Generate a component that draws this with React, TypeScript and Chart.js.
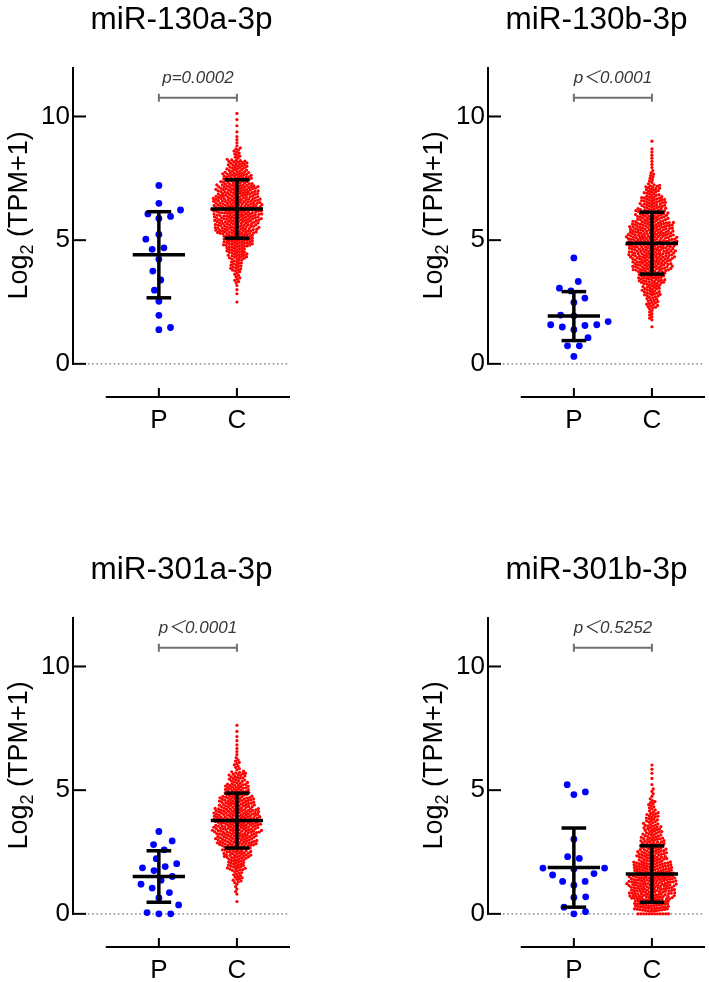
import React, { useEffect, useRef } from 'react';
import { Chart, registerables } from 'chart.js';
Chart.register(...registerables);

// ---------------- data ----------------
const titles = ['miR-130a-3p', 'miR-130b-3p', 'miR-301a-3p', 'miR-301b-3p'];
const categories = ['P', 'C'];
const pTexts = ['p=0.0002', 'p\uFF1C0.0001', 'p\uFF1C0.0001', 'p\uFF1C0.5252'];
const yTicks = [0, 5, 10];
const yTitleMain = 'Log';
const yTitleSub = '2';
const yTitleRest = ' (TPM+1)';

// P group (blue), individual values
const P_130a = [7.21, 6.49, 6.22, 6.06, 5.96, 5.88, 5.23, 5.04, 4.69, 4.63, 4.23, 3.75, 3.39, 2.98, 2.53, 1.96, 1.47, 1.38];
const P_130b = [4.28, 3.33, 3.06, 2.95, 2.66, 2.48, 1.97, 1.94, 1.71, 1.58, 1.58, 1.55, 1.49, 1.38, 1.06, 0.73, 0.73, 0.3];
const P_301a = [3.33, 2.95, 2.8, 2.59, 2.23, 2.03, 1.91, 1.86, 1.75, 1.51, 1.36, 1.2, 1.04, 0.86, 0.64, 0.36, 0.05, 0, 0];
const P_301b = [5.22, 4.93, 4.82, 3.02, 2.31, 2.24, 1.85, 1.85, 1.81, 1.63, 1.57, 1.31, 1.31, 1.16, 0.69, 0.66, 0.27, 0.09, 0];

// C group (red): counts per 0.5-wide bin
const C_130a_start = 2.25;
const C_130a_counts = [1, 3, 10, 20, 34, 52, 68, 76, 76, 68, 48, 33, 12, 4, 2, 2];
const C_130b_start = 1.25;
const C_130b_counts = [1, 8, 20, 30, 44, 63, 72, 78, 69, 52, 42, 25, 9, 4, 4, 1];
const C_301a_start = 0.25;
const C_301a_counts = [1, 5, 16, 30, 45, 65, 75, 74, 57, 40, 27, 10, 4, 3, 2];
const C_301b_start = 0.1;
const C_301b_zeros = 12;
const C_301b_counts = [60, 72, 78, 66, 48, 38, 30, 21, 12, 5, 2, 3];
const BIN_W = 0.5;

// mean and SD
const meanP = [4.41, 1.93, 1.51, 1.87];
const sdP = [1.74, 0.99, 1.04, 1.6];
const meanC = [6.26, 4.88, 3.77, 1.61];
const sdC = [1.18, 1.25, 1.11, 1.14];

const pData = [P_130a, P_130b, P_301a, P_301b];
const cStarts = [C_130a_start, C_130b_start, C_301a_start, C_301b_start];
const cCounts = [C_130a_counts, C_130b_counts, C_301a_counts, C_301b_counts];
const cZeros = [0, 0, 0, C_301b_zeros];

// ---------------- layout constants ----------------
const Y_MIN = -1.34;
const Y_MAX = 12;
const X_MIN = -1.1;
const X_MAX = 1.68;
const X_LINE_MIN = -0.68;
const DOT_LINE_MIN = -0.91;
const BRACKET_Y = 10.76;
const CANVAS_W = 294;
const CANVAS_H = 430;
const PX_PER_X = 220 / (X_MAX - X_MIN);
const PX_PER_Y = 330 / (Y_MAX - Y_MIN);
const FONT = "'Liberation Sans', Arial, Helvetica, sans-serif";
const FONT_P = "'Liberation Sans', Arial, 'Noto Sans CJK SC', sans-serif";

function expandBins(start: number, counts: number[], zeros: number) {
  const out: number[] = [];
  for (let i = 0; i < zeros; i++) out.push(0);
  counts.forEach((n, i) => {
    for (let k = 0; k < n; k++) out.push(start + i * BIN_W + ((k + 0.5) * BIN_W) / n);
  });
  return out;
}

function swarm(values: number[], center: number, diam: number) {
  const sorted = [...values].sort((a, b) => a - b);
  const placed: { x: number; y: number }[] = [];
  const pts: { x: number; y: number }[] = [];
  const d2 = diam * diam;
  let flip = 1;
  for (const v of sorted) {
    const y = v * PX_PER_Y;
    const near = placed.filter((p) => Math.abs(p.y - y) < diam);
    const cands = [0];
    for (const p of near) {
      const dx = Math.sqrt(Math.max(d2 - (p.y - y) * (p.y - y), 0));
      cands.push(p.x + dx + 0.001, p.x - dx - 0.001);
    }
    cands.sort((a, b) => Math.abs(a) - Math.abs(b) || (a - b) * flip);
    flip = -flip;
    let chosen = 0;
    for (const c of cands) {
      if (near.every((p) => (p.x - c) * (p.x - c) + (p.y - y) * (p.y - y) >= d2 - 1e-6)) {
        chosen = c;
        break;
      }
    }
    placed.push({ x: chosen, y });
    pts.push({ x: center + chosen / PX_PER_X, y: v });
  }
  return pts;
}

function seg(pts: { x: number; y: number }[], color: string, width: number, order: number, dash: number[] = []) {
  return {
    type: 'scatter' as const,
    data: pts,
    showLine: true,
    borderColor: color,
    backgroundColor: color,
    borderWidth: width,
    borderDash: dash,
    borderCapStyle: 'butt' as const,
    pointRadius: 0,
    order,
  };
}

function errorBar(cx: number, m: number, s: number) {
  const mh = 0.335;
  const ch = 0.158;
  return [
    seg([{ x: cx - mh, y: m }, { x: cx + mh, y: m }], '#000', 3.5, 0),
    seg([{ x: cx, y: m - s }, { x: cx, y: m + s }], '#000', 3.5, 0),
    seg([{ x: cx - ch, y: m + s }, { x: cx + ch, y: m + s }], '#000', 3.5, 0),
    seg([{ x: cx - ch, y: m - s }, { x: cx + ch, y: m - s }], '#000', 3.5, 0),
  ];
}

const axesPlugin = {
  id: 'prismAxes',
  afterDraw(chart: any) {
    const { ctx, chartArea, scales } = chart;
    const xs = scales.x;
    const ys = scales.y;
    const cfg = chart.options.plugins.prismAxes;
    ctx.save();
    ctx.strokeStyle = '#000';
    ctx.lineWidth = 2;
    ctx.lineCap = 'butt';
    const x0 = chartArea.left;
    const yTop = ys.getPixelForValue(Y_MAX);
    const yZero = ys.getPixelForValue(0);
    ctx.beginPath();
    ctx.moveTo(x0, yTop);
    ctx.lineTo(x0, yZero + 1);
    ctx.stroke();
    yTicks.forEach((v) => {
      const y = ys.getPixelForValue(v);
      ctx.beginPath();
      ctx.moveTo(x0 - 1, y);
      ctx.lineTo(x0 + 13, y);
      ctx.stroke();
    });
    const yb = chartArea.bottom;
    ctx.beginPath();
    ctx.moveTo(xs.getPixelForValue(X_LINE_MIN), yb);
    ctx.lineTo(xs.getPixelForValue(X_MAX), yb);
    ctx.stroke();
    categories.forEach((_c, i) => {
      const x = xs.getPixelForValue(i);
      ctx.beginPath();
      ctx.moveTo(x, yb - 9);
      ctx.lineTo(x, yb + 1);
      ctx.stroke();
    });
    // chart title
    ctx.fillStyle = '#000';
    ctx.font = `31.5px ${FONT}`;
    ctx.textAlign = 'center';
    ctx.textBaseline = 'alphabetic';
    ctx.fillText(cfg.title, (chartArea.left + chartArea.right) / 2, 29);
    // y axis title with subscript
    ctx.save();
    ctx.translate(26.5, (yTop + yZero) / 2);
    ctx.rotate(-Math.PI / 2);
    ctx.textAlign = 'left';
    const big = `27px ${FONT}`;
    const small = `18px ${FONT}`;
    ctx.font = big;
    const w1 = ctx.measureText(yTitleMain).width;
    const w3 = ctx.measureText(yTitleRest).width;
    ctx.font = small;
    const w2 = ctx.measureText(yTitleSub).width;
    let x = -(w1 + w2 + w3) / 2;
    ctx.font = big;
    ctx.fillText(yTitleMain, x, 0);
    x += w1;
    ctx.font = small;
    ctx.fillText(yTitleSub, x, 6);
    x += w2;
    ctx.font = big;
    ctx.fillText(yTitleRest, x, 0);
    ctx.restore();
    // p value text
    ctx.font = `italic 17px ${FONT_P}`;
    ctx.fillStyle = '#383838';
    ctx.textAlign = 'center';
    ctx.fillText(cfg.pText, xs.getPixelForValue(0.5), ys.getPixelForValue(BRACKET_Y) - 15);
    ctx.restore();
  },
};

function buildConfig(idx: number): any {
  const blue = swarm(pData[idx], 0, 12);
  const red = swarm(expandBins(cStarts[idx], cCounts[idx], cZeros[idx]), 1, 2.8);
  const tk = 0.16;
  const datasets: any[] = [
    ...errorBar(0, meanP[idx], sdP[idx]),
    ...errorBar(1, meanC[idx], sdC[idx]),
    seg([{ x: 0, y: BRACKET_Y + tk }, { x: 0, y: BRACKET_Y - tk }], '#707070', 2, 0),
    seg([{ x: 0, y: BRACKET_Y }, { x: 1, y: BRACKET_Y }], '#707070', 2, 0),
    seg([{ x: 1, y: BRACKET_Y + tk }, { x: 1, y: BRACKET_Y - tk }], '#707070', 2, 0),
    {
      type: 'scatter',
      data: blue,
      pointRadius: 3.4,
      pointBorderWidth: 0,
      borderWidth: 0,
      backgroundColor: '#0000ff',
      borderColor: '#0000ff',
      order: 1,
    },
    {
      type: 'scatter',
      data: red,
      pointRadius: 1.6,
      pointBorderWidth: 0,
      borderWidth: 0,
      backgroundColor: '#ff0000',
      borderColor: '#ff0000',
      order: 2,
    },
    seg([{ x: DOT_LINE_MIN, y: 0 }, { x: X_MAX, y: 0 }], '#9a9a9a', 1.6, 3, [1.6, 2.7]),
  ];
  return {
    type: 'scatter',
    data: { datasets },
    plugins: [axesPlugin],
    options: {
      animation: false,
      responsive: false,
      events: [],
      layout: { padding: { left: 0, right: 1, top: 67, bottom: 0 } },
      plugins: {
        legend: { display: false },
        title: { display: false },
        tooltip: { enabled: false },
        prismAxes: { title: titles[idx], pText: pTexts[idx] },
      },
      scales: {
        x: {
          type: 'linear',
          min: X_MIN,
          max: X_MAX,
          grid: { display: false, drawTicks: false },
          border: { display: false },
          afterBuildTicks: (s: any) => {
            s.ticks = categories.map((_c, i) => ({ value: i }));
          },
          afterFit: (s: any) => {
            s.height = 33;
          },
          ticks: {
            callback: (v: any) => categories[v],
            font: { size: 26, family: FONT },
            color: '#000',
            padding: 8,
            maxRotation: 0,
            autoSkip: false,
          },
        },
        y: {
          type: 'linear',
          min: Y_MIN,
          max: Y_MAX,
          grid: { display: false, drawTicks: false },
          border: { display: false },
          afterBuildTicks: (s: any) => {
            s.ticks = yTicks.map((v) => ({ value: v }));
          },
          afterFit: (s: any) => {
            s.width = 73;
          },
          ticks: {
            font: { size: 26, family: FONT },
            color: '#000',
            padding: 3,
            autoSkip: false,
          },
        },
      },
    },
  };
}

function Panel({ idx, left, top }: { idx: number; left: number; top: number }) {
  const ref = useRef<HTMLCanvasElement>(null);
  useEffect(() => {
    if (!ref.current) return;
    const chart = new Chart(ref.current, buildConfig(idx));
    return () => chart.destroy();
  }, [idx]);
  return (
    <canvas
      ref={ref}
      width={CANVAS_W}
      height={CANVAS_H}
      style={{ position: 'absolute', left, top, width: CANVAS_W, height: CANVAS_H }}
    />
  );
}

export default function App() {
  return (
    <div style={{ position: 'absolute', left: 0, top: 0, width: 709, height: 982, background: '#fff', overflow: 'hidden' }}>
      <Panel idx={0} left={0} top={0} />
      <Panel idx={1} left={415} top={0} />
      <Panel idx={2} left={0} top={550} />
      <Panel idx={3} left={415} top={550} />
    </div>
  );
}
